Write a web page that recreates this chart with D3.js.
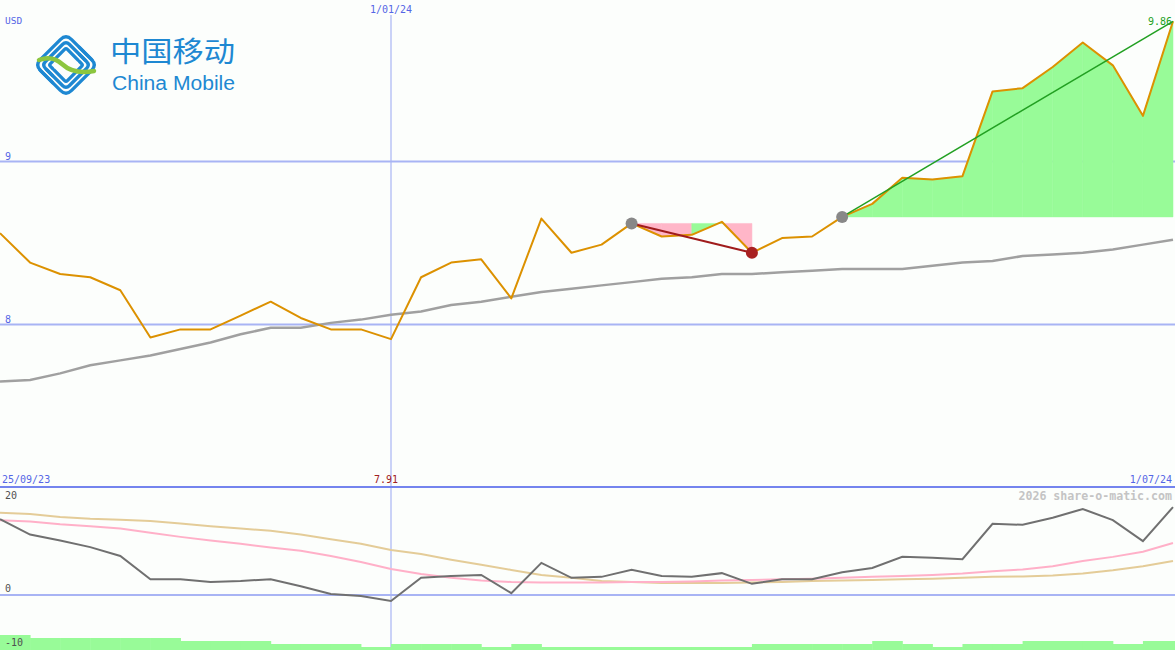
<!DOCTYPE html>
<html><head><meta charset="utf-8">
<script src="https://cdn.jsdelivr.net/npm/d3@7"></script>
<style>html,body{margin:0;padding:0;background:#fcfefc;}svg{display:block}</style>
</head><body><svg id="c" width="1175" height="650"></svg>
<script>
// ---- data ----
const dates = ["25/09/23","2/10/23","9/10/23","16/10/23","23/10/23","30/10/23","6/11/23","13/11/23","20/11/23","27/11/23",
"4/12/23","11/12/23","18/12/23","1/01/24","8/01/24","15/01/24","22/01/24","29/01/24","5/02/24","12/02/24",
"19/02/24","26/02/24","4/03/24","11/03/24","18/03/24","25/03/24","1/04/24","8/04/24","15/04/24","22/04/24",
"29/04/24","6/05/24","13/05/24","20/05/24","27/05/24","3/06/24","10/06/24","17/06/24","24/06/24","1/07/24"];
const price = [8.56,8.38,8.31,8.29,8.21,7.92,7.97,7.97,8.055,8.14,
8.04,7.97,7.97,7.91,8.29,8.38,8.40,8.16,8.65,8.44,
8.49,8.62,8.54,8.55,8.63,8.44,8.53,8.54,8.66,8.74,
8.90,8.89,8.91,9.43,9.45,9.58,9.73,9.59,9.28,9.86];
const movingAvg = [7.65,7.66,7.70,7.75,7.78,7.81,7.85,7.89,7.94,7.98,
7.98,8.01,8.03,8.06,8.08,8.12,8.14,8.17,8.20,8.22,
8.24,8.26,8.28,8.29,8.31,8.31,8.32,8.33,8.34,8.34,
8.34,8.36,8.38,8.39,8.42,8.43,8.44,8.46,8.49,8.52];
const oscGrey = [16.3,13.0,11.7,10.3,8.4,3.4,3.4,2.8,3.0,3.4,
1.9,0.2,-0.2,-1.3,3.7,4.1,4.3,0.4,6.9,3.7,
3.9,5.4,4.1,3.9,4.7,2.4,3.4,3.4,4.9,5.8,
8.2,8.0,7.7,15.3,15.1,16.6,18.5,16.1,11.6,18.9];
const oscPink = [16.1,15.8,15.2,14.8,14.3,13.4,12.5,11.7,11.0,10.2,
9.5,8.4,7.1,5.6,4.5,3.7,3.1,2.8,2.7,2.7,
2.7,2.8,2.8,2.9,3.1,3.2,3.4,3.5,3.7,3.9,
4.1,4.3,4.6,5.1,5.5,6.2,7.3,8.2,9.3,11.2];
const oscTan = [17.7,17.4,16.8,16.4,16.2,15.9,15.4,14.8,14.3,13.8,
13.0,12.0,11.0,9.7,8.8,7.6,6.5,5.4,4.3,3.7,
3.0,2.8,2.6,2.6,2.6,2.7,2.8,3.0,3.1,3.2,
3.4,3.5,3.7,3.9,4.0,4.2,4.6,5.3,6.2,7.3];
const volume = [5,4,4,4,4,4,3,3,3,2,
2,2,1,2,2,2,1,2,1,1,
1,1,1,1,1,2,2,2,2,3,
2,1,2,2,3,3,3,2,3,3];
const priceTicks = [8, 9];
const oscTicks = [20, 0, -10];
const yearMark = "1/01/24";
const sigStart = "26/02/24", sigLow = "25/03/24", trendStart = "15/04/24";
const priceUnit = "USD";
const credit = "2026 share-o-matic.com";

// ---- scales ----
const W = 1175, H = 650;
const svg = d3.select("#c");
const x = d3.scalePoint().domain(dates).range([0, 1173]);
const step = x.step();
const y = d3.scaleLinear().domain([8, 9]).range([324.5, 161.5]);
const yo = d3.scaleLinear().domain([0, 20]).range([595, 502]);
const yv = d3.scaleLinear().domain([0, 5]).range([650, 635]);
const mono = "'DejaVu Sans Mono', monospace";
const gridC = "#a8b4f4", labC = "#5566e6";
const idx = d => dates.indexOf(d);

// ---- logo ----
const logo = svg.append("g");
const blue = "#1e88d2";
const ic = logo.append("g").attr("transform", "translate(66,65) rotate(45)");
function cPath(d) {
  const a = -22 + d, b = 22 - d, r = 8 - d * 0.6;
  return `M ${15 - d} ${a} L ${a + r} ${a} Q ${a} ${a} ${a} ${a + r} L ${a} ${b - r} Q ${a} ${b} ${a + r} ${b} L ${3 - d} ${b}`;
}
[0, 5, 10].forEach(d => {
  [0, 180].forEach(rot => ic.append("path").attr("d", cPath(d)).attr("transform", `rotate(${rot})`)
    .attr("fill", "none").attr("stroke", blue).attr("stroke-width", 3.3).attr("stroke-linecap", "round"));
});
logo.append("path").attr("d", "M 39 60 Q 52 55 62 64 Q 74 75 94 71")
  .attr("fill", "none").attr("stroke", "#8cc63f").attr("stroke-width", 4.5).attr("stroke-linecap", "round");
logo.append("text").attr("x", 110).attr("y", 62).attr("font-family", "'Noto Sans CJK SC'")
  .attr("font-size", 28).attr("fill", blue).attr("textLength", 125).attr("lengthAdjust", "spacingAndGlyphs").text("中国移动");
logo.append("text").attr("x", 112).attr("y", 90).attr("font-family", "'Liberation Sans', Arial, sans-serif")
  .attr("font-size", 20).attr("fill", blue).attr("textLength", 123).attr("lengthAdjust", "spacingAndGlyphs").text("China Mobile");

// ---- grid ----
svg.selectAll(".pg").data(priceTicks).join("line")
  .attr("x1", 0).attr("x2", W).attr("y1", d => y(d)).attr("y2", d => y(d))
  .attr("stroke", gridC).attr("stroke-width", 2);
svg.append("line").attr("x1", x(yearMark)).attr("x2", x(yearMark)).attr("y1", 15).attr("y2", H)
  .attr("stroke", gridC).attr("stroke-width", 1.2);
svg.append("line").attr("x1", 0).attr("x2", W).attr("y1", yo(0)).attr("y2", yo(0))
  .attr("stroke", gridC).attr("stroke-width", 2);

// ---- signal fills ----
function fills(i0, i1) {
  const base = price[i0];
  const segs = [];
  for (let i = i0; i < i1; i++) {
    segs.push({
      pts: [[x(dates[i]), y(base)], [x(dates[i]), y(price[i])], [x(dates[i + 1]), y(price[i + 1])], [x(dates[i + 1]), y(base)]],
      up: price[i + 1] >= base
    });
  }
  return segs;
}
const iS = idx(sigStart), iL = idx(sigLow), iT = idx(trendStart), iE = dates.length - 1;
const allFills = fills(iS, iL).concat(fills(iT, iE));
svg.selectAll(".fill").data(allFills).join("polygon")
  .attr("points", d => d.pts.map(p => p.join(",")).join(" "))
  .attr("fill", d => d.up ? "#98fb98" : "#ffb6c8").attr("stroke", d => d.up ? "#98fb98" : "#ffb6c8").attr("stroke-width", 0.5);

// ---- lines ----
const lineP = vals => d3.line().x((d, i) => x(dates[i])).y(d => y(d))(vals);
const lineO = vals => d3.line().x((d, i) => x(dates[i])).y(d => yo(d))(vals);
svg.append("path").attr("d", lineP(movingAvg)).attr("fill", "none").attr("stroke", "#a0a0a0").attr("stroke-width", 2.5);
svg.append("path").attr("d", lineP(price)).attr("fill", "none").attr("stroke", "#dc9100").attr("stroke-width", 2).attr("stroke-linejoin", "round");

svg.append("line").attr("x1", x(dates[iS])).attr("y1", y(price[iS])).attr("x2", x(dates[iL])).attr("y2", y(price[iL]))
  .attr("stroke", "#a01c1c").attr("stroke-width", 2);
svg.append("line").attr("x1", x(dates[iT])).attr("y1", y(price[iT])).attr("x2", x(dates[iE])).attr("y2", y(price[iE]))
  .attr("stroke", "#22a022").attr("stroke-width", 1.5);
svg.append("circle").attr("cx", x(dates[iS])).attr("cy", y(price[iS])).attr("r", 6).attr("fill", "#888");
svg.append("circle").attr("cx", x(dates[iT])).attr("cy", y(price[iT])).attr("r", 6).attr("fill", "#888");
svg.append("circle").attr("cx", x(dates[iL])).attr("cy", y(price[iL])).attr("r", 6).attr("fill", "#a82020");

// ---- lower panel ----
svg.selectAll(".vol").data(volume).join("rect")
  .attr("x", (d, i) => x(dates[i])).attr("width", step + 0.5)
  .attr("y", d => yv(d)).attr("height", d => H - yv(d)).attr("fill", "#98fb98");
svg.append("path").attr("d", lineO(oscTan)).attr("fill", "none").attr("stroke", "#e4cc98").attr("stroke-width", 2);
svg.append("path").attr("d", lineO(oscPink)).attr("fill", "none").attr("stroke", "#ffb0c8").attr("stroke-width", 2);
svg.append("path").attr("d", lineO(oscGrey)).attr("fill", "none").attr("stroke", "#707070").attr("stroke-width", 2);

svg.append("line").attr("x1", 0).attr("x2", W).attr("y1", 487).attr("y2", 487).attr("stroke", "#7484ee").attr("stroke-width", 2);

// ---- text ----
const txt = (t, xx, yy, col, anchor, size, weight) => svg.append("text").attr("x", xx).attr("y", yy)
  .attr("fill", col).attr("font-family", mono).attr("font-size", size || 10).attr("font-weight", weight || "normal")
  .attr("text-anchor", anchor || "start").text(t);
txt(priceUnit, 5, 24, labC, "start", 9.5);
priceTicks.forEach(v => txt(String(v), 5, y(v) - 2, labC));
txt(yearMark, x(yearMark), 13, labC, "middle");
txt(dates[0], 2, 483, labC, "start");
txt(dates[dates.length - 1], 1172, 483, labC, "end");
const iMin = price.indexOf(d3.min(price));
txt(d3.format(".2f")(price[iMin]), x(dates[iMin]) - 5, 483, "#a02020", "middle");
txt(d3.format(".2f")(price[iE]), 1172, 25, "#22a022", "end");
txt(credit, 1172, 500, "#c4c4c4", "end", 11.6, "bold");
oscTicks.forEach(v => txt(String(v), 5, v === oscTicks[2] ? 646 : yo(v) - 3, "#505050"));
</script></body></html>
